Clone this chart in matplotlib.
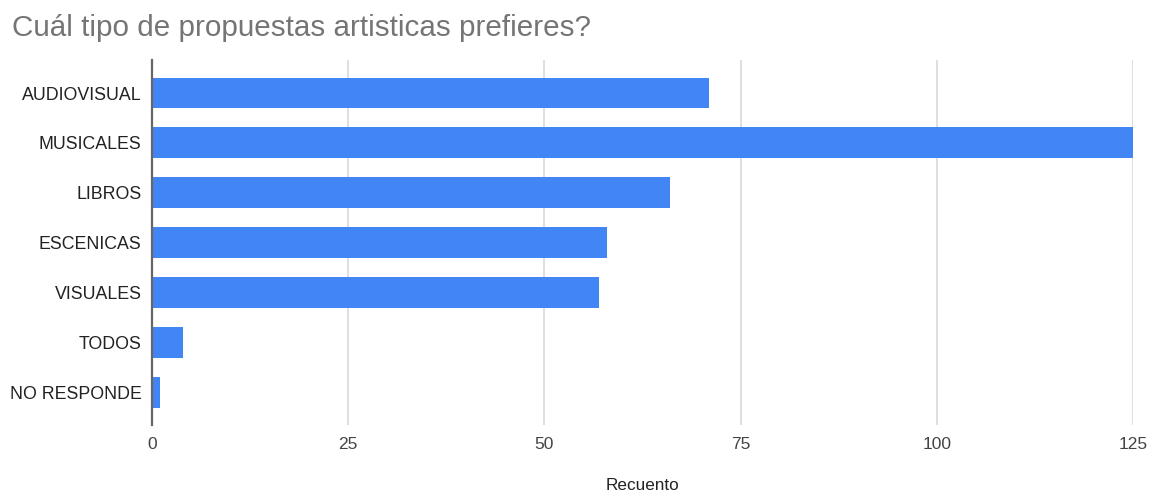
import matplotlib
matplotlib.use("Agg")
import matplotlib.pyplot as plt

categories = ["AUDIOVISUAL", "MUSICALES", "LIBROS", "ESCENICAS", "VISUALES", "TODOS", "NO RESPONDE"]
values = [71, 125, 66, 58, 57, 4, 1]
xticks = [0, 25, 50, 75, 100, 125]

plt.rcParams['font.family'] = ['Liberation Sans', 'DejaVu Sans']

fig = plt.figure(figsize=(11.49, 4.93), dpi=100)
ax = fig.add_axes([0.1323, 0.138, 0.8538, 0.740])

ypos = list(range(len(categories)))
ax.barh(ypos, values, height=0.62, color="#4285F4", zorder=3)
ax.set_ylim(len(categories) - 1 + 0.66, -0.66)
ax.set_xlim(0, 125)
ax.set_yticks(ypos)
ax.set_yticklabels(categories, fontsize=12.8, color="#222222")
ax.set_xticks(xticks)
ax.set_xticklabels([str(t) for t in xticks], fontsize=12.5, color="#444444")
ax.tick_params(axis='both', length=0)
ax.tick_params(axis='y', pad=7.5)
ax.tick_params(axis='x', pad=9)
ax.grid(axis='x', color="#d9d9d9", linewidth=1.2, zorder=0)
for s in ["top", "right", "bottom"]:
    ax.spines[s].set_visible(False)
ax.spines["left"].set_color("#666666")
ax.spines["left"].set_linewidth(1.6)
ax.spines["left"].set_zorder(4)

fig.text(642 / 1149, 1 - 485 / 493, "Recuento", fontsize=12.3, color="#222222",
         ha="center", va="center")

fig.text(0.0105, 1 - 28 / 493, "Cuál tipo de propuestas artisticas prefieres?", fontsize=21.3,
         color="#757575", ha="left", va="center")

fig.savefig("out.png", dpi=100, facecolor="white")
